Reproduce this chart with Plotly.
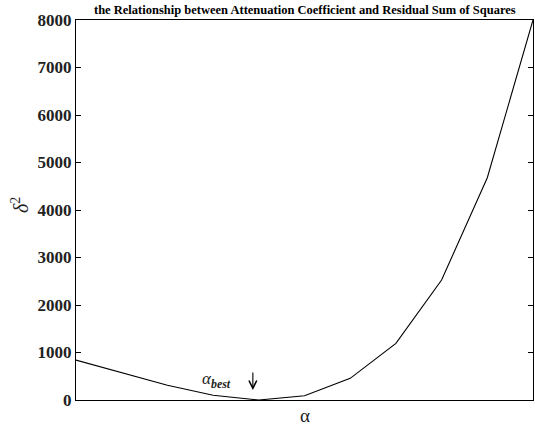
import plotly.graph_objects as go

# attenuation coefficient samples and residual sum of squares
alpha = [1, 2, 3, 4, 5, 6, 7, 8, 9, 10, 11]
rss = [840, 580, 310, 100, 0, 90, 456, 1193, 2526, 4680, 8000]
y_ticks = [0, 1000, 2000, 3000, 4000, 5000, 6000, 7000, 8000]

serif = "Liberation Serif"

fig = go.Figure()
fig.add_trace(go.Scatter(
    x=alpha, y=rss, mode="lines",
    line=dict(color="black", width=1.1),
    showlegend=False, hoverinfo="skip",
))

fig.update_layout(
    width=535, height=426,
    margin=dict(l=76, r=2, t=20, b=26),
    paper_bgcolor="white", plot_bgcolor="white",
    font=dict(family=serif),
    xaxis=dict(
        range=[alpha[0], alpha[-1]],
        showticklabels=False, ticks="", showgrid=False, zeroline=False,
        showline=True, linecolor="black", linewidth=1, mirror=True,
    ),
    yaxis=dict(
        range=[y_ticks[0], y_ticks[-1]], tickvals=y_ticks,
        ticks="inside", ticklen=5, tickcolor="black", tickwidth=1,
        showgrid=False, zeroline=False,
        showline=True, linecolor="black", linewidth=1, mirror="ticks",
        tickfont=dict(family=serif, size=17, color="#222", weight="bold"),
    ),
)

# title
fig.add_annotation(
    text="the Relationship between Attenuation Coefficient and Residual Sum of Squares",
    xref="paper", yref="paper", x=0.5, y=1.0, xanchor="center", yanchor="bottom",
    yshift=1, showarrow=False,
    font=dict(family=serif, size=12.5, color="black", weight="bold"),
)
# axis labels
fig.add_annotation(
    text="α", xref="paper", yref="paper", x=0.5, y=0, yanchor="top", yshift=-3,
    showarrow=False, font=dict(family=serif, size=19, color="#222"),
)
fig.add_annotation(
    text="<i>δ</i><sup>2</sup>", xref="paper", yref="paper", x=0, y=0.5,
    xanchor="right", xshift=-42, yshift=5, textangle=-90, showarrow=False,
    font=dict(family=serif, size=20, color="#222"),
)
# marker of the best coefficient
fig.add_annotation(
    text="<i>α<sub><b>best</b></sub></i>", x=4.08, y=430, xanchor="center",
    yanchor="middle", showarrow=False,
    font=dict(family=serif, size=17, color="#222"),
)
fig.add_annotation(
    x=4.87, y=210, ax=0, ay=-19, text="", showarrow=True,
    arrowhead=5, arrowsize=1.4, arrowwidth=1.1, arrowcolor="black",
)

fig.write_html("out.html")
